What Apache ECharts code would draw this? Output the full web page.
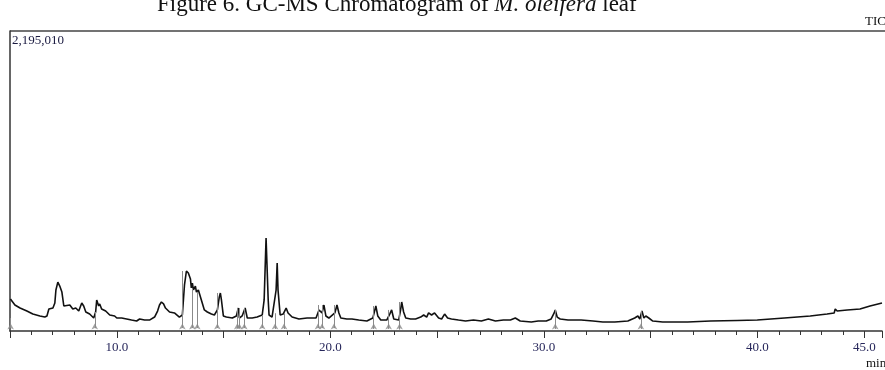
<!DOCTYPE html>
<html><head><meta charset="utf-8">
<script src="https://cdn.jsdelivr.net/npm/echarts@6/dist/echarts.min.js"></script>
<style>html,body{margin:0;padding:0;background:#fff}#c{width:885px;height:370px}</style>
</head><body><div id="c"></div>
<script>
// Retention time (min)
const times = [5.02,5.23,5.47,5.79,6.07,6.40,6.63,6.73,6.82,7.01,
7.10,7.15,7.24,7.33,7.43,7.52,7.61,7.80,7.94,8.08,
8.22,8.36,8.45,8.55,8.73,8.92,9.01,9.06,9.10,9.15,
9.20,9.29,9.48,9.67,9.90,10.00,10.23,10.46,10.69,10.93,
11.07,11.16,11.30,11.53,11.77,11.91,12.00,12.09,12.19,12.28,
12.47,12.70,12.93,13.07,13.17,13.26,13.35,13.45,13.49,13.54,
13.59,13.68,13.73,13.82,13.87,13.96,14.10,14.24,14.43,14.57,
14.71,14.80,14.85,14.90,14.99,15.13,15.41,15.60,15.69,15.74,
15.87,16.01,16.11,16.34,16.57,16.81,16.90,16.99,17.09,17.13,
17.27,17.36,17.46,17.51,17.55,17.65,17.79,17.93,18.02,18.21,
18.53,18.91,19.33,19.47,19.56,19.61,19.70,19.79,19.93,20.21,
20.31,20.40,20.49,20.77,21.01,21.33,21.71,21.99,22.13,22.22,
22.36,22.64,22.78,22.87,22.97,23.20,23.29,23.34,23.43,23.53,
23.76,23.99,24.23,24.37,24.51,24.60,24.74,24.88,25.07,25.21,
25.35,25.49,25.67,26.00,26.33,26.70,27.07,27.40,27.73,28.10,
28.43,28.66,28.89,29.41,29.73,30.11,30.34,30.48,30.53,30.62,
30.76,31.13,31.74,32.30,32.76,33.32,33.93,34.25,34.40,34.49,
34.59,34.68,34.77,34.91,35.10,35.56,36.73,37.80,39.06,39.99,
41.26,42.47,43.26,43.59,43.64,43.73,44.20,44.80,45.27,45.83];
// TIC intensity (counts)
const intensities = [234000,190000,168000,146000,124000,110000,102000,110000,161000,168000,
205000,300000,358000,329000,285000,183000,176000,190000,161000,168000,
146000,205000,183000,139000,124000,95000,139000,227000,220000,183000,
198000,161000,146000,117000,110000,95000,95000,88000,80000,73000,
88000,95000,80000,80000,102000,146000,190000,212000,198000,168000,
139000,132000,102000,117000,337000,439000,424000,380000,315000,351000,
300000,329000,285000,300000,293000,227000,154000,139000,124000,117000,
154000,249000,278000,227000,110000,102000,95000,110000,168000,95000,
110000,168000,95000,95000,102000,117000,227000,680000,227000,117000,
102000,95000,300000,497000,300000,117000,124000,168000,132000,102000,
88000,95000,95000,154000,168000,132000,190000,110000,95000,132000,
190000,132000,95000,88000,88000,80000,73000,95000,183000,110000,
80000,80000,124000,154000,88000,80000,154000,212000,139000,95000,
88000,88000,102000,117000,102000,132000,117000,132000,95000,88000,
124000,95000,88000,80000,73000,80000,73000,88000,73000,80000,
80000,95000,73000,66000,73000,73000,88000,132000,154000,102000,
88000,80000,80000,73000,66000,66000,73000,95000,110000,88000,
146000,95000,110000,95000,73000,66000,66000,73000,77000,80000,
95000,110000,124000,132000,161000,146000,154000,161000,183000,205000];
// Integration markers
const markerTimes = [5.03,8.97,13.07,13.54,13.77,14.71,15.64,15.74,15.97,16.81,17.41,17.83,19.42,19.61,20.17,22.03,22.73,23.24,30.53,34.54];
const markerTop = [95000,139000,439000,300000,285000,278000,168000,168000,168000,117000,130000,130000,190000,190000,190000,183000,154000,212000,154000,146000];
const markerBottom = [22000,22000,22000,22000,22000,22000,22000,22000,22000,22000,15000,15000,22000,22000,22000,15000,15000,10000,15000,15000];
const tickLabels = [10,20,30,40,45];
const yMax = 2195010;
const yMaxLabel = '2,195,010';

const chart = echarts.init(document.getElementById('c'));
const serif = '"Liberation Serif","Times New Roman",serif';
chart.setOption({
  animation: false,
  grid: {left: 10, right: 0, top: 31, bottom: 39, containLabel: false},
  xAxis: [{
    type: 'value', min: 5, max: 45.83, interval: 1, position: 'bottom', offset: 0,
    axisLine: {show: true, onZero: false, lineStyle: {color: '#333', width: 1.5}},
    axisTick: {show: true, length: 4, lineStyle: {color: '#333', width: 1}},
    axisLabel: {show: false}, splitLine: {show: false}
  }, {
    type: 'value', min: 5, max: 45.83, interval: 5, position: 'bottom', offset: 0,
    axisLine: {show: false, onZero: false},
    axisTick: {show: true, length: 7, lineStyle: {color: '#333', width: 1}},
    axisLabel: {show: true, margin: 10, fontFamily: serif, fontSize: 13, color: '#26265a',
      formatter: v => tickLabels.includes(v) ? v.toFixed(1) : ''},
    splitLine: {show: false}
  }],
  yAxis: {
    type: 'value', min: 0, max: yMax,
    axisLine: {show: true, onZero: false, lineStyle: {color: '#333', width: 1.5}},
    axisTick: {show: false}, axisLabel: {show: false}, splitLine: {show: false}
  },
  series: [{
    type: 'line', xAxisIndex: 0, showSymbol: false, symbol: 'none',
    data: times.map((t, i) => [t, intensities[i]]),
    lineStyle: {color: '#111', width: 1.6},
    markLine: {
      silent: true, symbol: ['none', 'none'],
      lineStyle: {color: '#8a8a8a', width: 1, type: 'solid'},
      label: {show: false},
      data: markerTimes.map((t, i) => [{coord: [t, markerTop[i]]}, {coord: [t, markerBottom[i]]}])
    },
    z: 3
  }, {
    type: 'scatter', xAxisIndex: 0, symbol: 'arrow', symbolSize: [5, 6],
    itemStyle: {color: '#8a8a8a'}, silent: true,
    data: markerTimes.map(t => [t, 55000]), z: 2
  }],
  graphic: [
    {type: 'line', shape: {x1: 10, y1: 31, x2: 885, y2: 31}, style: {stroke: '#444', lineWidth: 1.5}},
    {type: 'text', x: 157, y: 4.5, style: {
      text: '{n|Figure 6. GC-MS Chromatogram of }{i|M. oleifera}{n| leaf}',
      verticalAlign: 'middle',
      rich: {
        n: {fontFamily: serif, fontSize: 23, fill: '#111'},
        i: {fontFamily: serif, fontSize: 23, fontStyle: 'italic', fill: '#111'}
      }}},
    {type: 'text', x: 865, y: 22, style: {text: 'TIC', font: '13px ' + serif, fill: '#111', verticalAlign: 'middle'}},
    {type: 'text', x: 12, y: 41, style: {text: yMaxLabel, font: '13px ' + serif, fill: '#1a1a40', verticalAlign: 'middle'}},
    {type: 'text', x: 866, y: 364, style: {text: 'min', font: '13px ' + serif, fill: '#111', verticalAlign: 'middle'}}
  ]
});
</script>
</body></html>
